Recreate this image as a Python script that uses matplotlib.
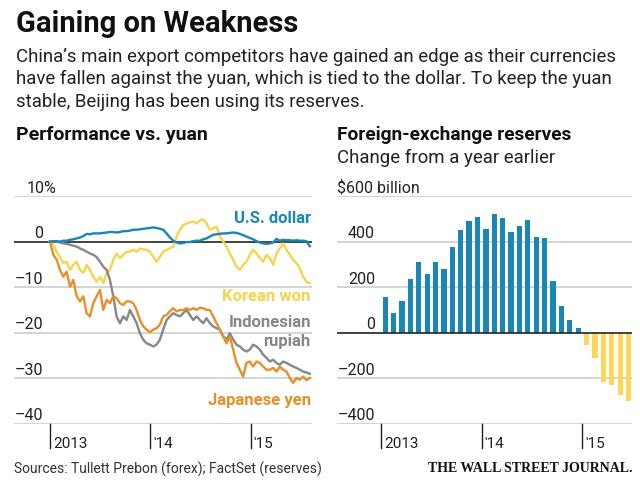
import numpy as np
import matplotlib
matplotlib.use('Agg')
import matplotlib.pyplot as plt
from matplotlib.transforms import blended_transform_factory

# left panel: performance vs. yuan, % change since start of 2013
t_years = np.linspace(2013.0, 2015.59, 79)
usd = [0.0, 0.1, 0.1, 0.0, 0.2, 0.2, 0.4, 0.5, 0.7, 0.9,
       1.2, 1.7, 1.6, 1.8, 1.8, 1.8, 1.9, 2.0, 2.1, 2.1,
       2.0, 2.1, 2.3, 2.3, 2.4, 2.6, 2.6, 2.7, 2.8, 2.9,
       3.0, 3.1, 3.0, 2.8, 2.6, 1.8, 0.9, 0.2, -0.2, -0.4,
       -0.3, -0.1, -0.1, 0.1, 0.2, 0.2, 0.5, 0.7, 1.1, 1.5,
       1.6, 1.7, 1.8, 1.8, 1.9, 2.0, 1.9, 1.7, 1.4, 1.1,
       0.8, 0.5, 0.1, -0.2, -0.4, -0.5, -0.4, -0.2, 0.6, 0.2,
       0.4, 0.3, 0.3, 0.2, 0.3, 0.2, 0.2, 0.1, -1.0]
krw = [0.0, -0.7, -2.2, -3.3, -4.7, -4.4, -6.2, -5.1, -4.4, -6.2,
       -6.9, -5.1, -6.2, -7.7, -8.8, -7.7, -9.1, -6.9, -6.2, -4.0,
       -2.6, -3.6, -2.9, -2.2, -2.2, -1.8, -2.2, -1.5, -1.7, -1.8,
       -2.2, -3.3, -4.4, -3.4, -2.2, -1.8, -1.5, -1.1, 1.1, 2.6,
       3.6, 4.0, 4.2, 4.4, 4.0, 4.6, 4.9, 4.0, 2.6, 2.9,
       3.3, 1.1, 0.0, -1.1, -2.6, -4.0, -5.5, -6.2, -5.1, -4.4,
       -2.9, -1.8, -2.6, -3.6, -4.4, -2.9, -3.6, -5.1, -2.6, -1.5,
       -0.4, -1.8, -2.9, -4.0, -4.7, -5.8, -7.7, -8.8, -9.1]
jpy = [0.0, -2.9, -4.0, -6.2, -7.7, -6.6, -9.9, -8.4, -12.0, -13.1,
       -12.0, -15.7, -16.4, -13.5, -12.0, -10.6, -15.0, -12.8, -13.5, -12.0,
       -12.4, -13.5, -13.9, -13.1, -13.1, -13.5, -15.0, -17.2, -18.6, -19.3,
       -19.9, -19.3, -19.0, -18.2, -16.4, -16.1, -15.3, -14.6, -15.3, -15.0,
       -15.0, -14.6, -15.0, -14.6, -15.0, -14.5, -14.6, -15.0, -15.0, -16.4,
       -17.9, -19.3, -20.8, -22.3, -20.8, -23.7, -26.6, -28.1, -29.6, -26.6,
       -26.3, -27.4, -26.3, -26.6, -27.4, -28.1, -28.1, -27.7, -28.5, -27.4,
       -28.1, -28.5, -29.9, -31.0, -29.9, -30.3, -29.6, -30.4, -29.9]
idr = [0.0, 0.0, 0.0, -0.2, -0.4, -0.5, -0.7, -0.9, -1.1, -1.5,
       -1.8, -2.2, -2.6, -2.9, -3.4, -4.4, -5.5, -6.2, -8.4, -12.0,
       -16.4, -17.9, -16.4, -17.2, -15.0, -16.4, -17.9, -20.1, -21.5, -22.3,
       -22.6, -23.0, -22.6, -21.5, -19.3, -17.2, -16.4, -15.7, -16.1, -16.4,
       -15.7, -15.0, -16.1, -17.2, -16.4, -17.2, -17.9, -16.8, -17.9, -18.6,
       -19.0, -19.3, -20.8, -21.5, -20.1, -21.5, -22.6, -23.0, -23.7, -24.1,
       -23.7, -22.6, -23.0, -23.7, -24.8, -25.5, -26.3, -25.9, -26.6, -27.0,
       -26.3, -26.6, -27.0, -27.4, -27.7, -28.1, -28.5, -28.7, -29.0]

# right panel: monthly change in reserves, $ billion, Jan 2013 - Jun 2015
months = np.arange(30)
reserves = [158, 88, 139, 237, 309, 258, 309, 282, 377, 450,
            492, 508, 455, 520, 505, 444, 467, 496, 419, 416,
            225, 118, 58, 23, -54, -111, -216, -229, -272, -298]

year_ticks = [2013, 2014, 2015]
year_labels = ['2013', "'14", "'15"]
left_yticks = [10, 0, -10, -20, -30, -40]
right_yticks = [600, 400, 200, 0, -200, -400]

BLUE = '#1a86b6'
YELLOW = '#f6d44c'
BAR_YELLOW = '#fbd65a'
ORANGE = '#e98f2a'
GRAY = '#878787'
GRID = '#c9c9c9'

SANS = ['Roboto', 'DejaVu Sans']
W, H = 640, 484

fig = plt.figure(figsize=(6.4, 4.84), dpi=100)


def fy(py):
    return 1 - py / H


# header text
fig.text(16 / W, fy(32.5), 'Gaining on Weakness', family=SANS, weight='bold', size=21, color='#111111')
sub = ["China\u2019s main export competitors have gained an edge as their currencies",
       "have fallen against the yuan, which is tied to the dollar. To keep the yuan",
       "stable, Beijing has been using its reserves."]
for i, line in enumerate(sub):
    fig.text(16 / W, fy(61.7 + 22.5 * i), line, family=SANS, size=13.4, color='#222222')
fig.text(16 / W, fy(139.5), 'Performance vs. yuan', family=SANS, weight='bold', size=14, color='#111111')
fig.text(337 / W, fy(139.5), 'Foreign-exchange reserves', family=SANS, weight='bold', size=13.8, color='#111111')
fig.text(337 / W, fy(162.5), 'Change from a year earlier', family=SANS, size=13.4, color='#222222')

# axes placed in pixel units
ax1 = fig.add_axes([14 / W, fy(424), (312 - 14) / W, (424 - 196) / H])
ax2 = fig.add_axes([337 / W, fy(424), (632 - 337) / W, (424 - 196) / H])

ax1.set_xlim(2013 - 36 / 100.3, 2013 + 262 / 100.3)
ax1.set_ylim(-40, 10)
ax2.set_xlim(2013 - 44 / 100.7, 2013 + 251 / 100.7)
ax2.set_ylim(-400, 600)

for ax in (ax1, ax2):
    ax.axis('off')

# gridlines
for v in left_yticks:
    if v != 0:
        ax1.axhline(v, color=GRID, lw=1.1, zorder=0)
for v in right_yticks:
    if v != 0:
        ax2.axhline(v, color=GRID, lw=1.1, zorder=0)

# lines
ax1.plot(t_years, idr, color=GRAY, lw=1.7, zorder=3)
ax1.plot(t_years, jpy, color=ORANGE, lw=1.7, zorder=4)
ax1.plot(t_years, krw, color=YELLOW, lw=1.7, zorder=2)
ax1.plot(t_years, usd, color=BLUE, lw=1.7, zorder=5)
ax1.axhline(0, color='#222222', lw=1.2, zorder=1)

# bars
bar_x = 2013 + (months + 0.5) / 12
bar_colors = [BLUE if v >= 0 else BAR_YELLOW for v in reserves]
ax2.bar(bar_x, reserves, width=0.63 / 12, color=bar_colors, zorder=2)
ax2.axhline(0, color='#222222', lw=1.2, zorder=3)

# y labels sit just above gridlines
for v in left_yticks:
    if v == 10:
        ax1.text(2013 - 23 / 100.3, v + 0.7, '10%', ha='left', va='baseline',
                 family=SANS, size=11.5, color='#222222')
    else:
        lab = str(v).replace('-', '\u2013')
        ax1.text(2012.93, v + 0.8, lab, ha='right', va='baseline', family=SANS, size=11.5, color='#222222')

for v in right_yticks:
    if v == 600:
        ax2.text(2013 - 44 / 100.7, v + 15, '$600 billion', ha='left', va='baseline',
                 family=SANS, size=11.5, color='#222222')
    else:
        lab = str(v).replace('-', '\u2013')
        ax2.text(2012.94, v + 16, lab, ha='right', va='baseline', family=SANS, size=11.5, color='#222222')

# year ticks below the bottom gridline
for ax in (ax1, ax2):
    tr = blended_transform_factory(ax.transData, ax.transAxes)
    for yr, lab in zip(year_ticks, year_labels):
        ax.plot([yr, yr], [0, -24 / 228], color='#222222', lw=1.0, transform=tr, clip_on=False)
        ax.text(yr + 0.03, -24 / 228, lab, ha='left', va='baseline', transform=tr,
                family=SANS, size=11, color='#222222')

# series labels
lab_kw = dict(ha='right', va='baseline', family=SANS, weight='bold', size=12)
ax1.text(2015.6, 4.1, 'U.S. dollar', color=BLUE, **lab_kw)
ax1.text(2015.6, -13.0, 'Korean won', color=YELLOW, **lab_kw)
ax1.text(2015.6, -18.7, 'Indonesian', color=GRAY, **lab_kw)
ax1.text(2015.6, -22.9, 'rupiah', color=GRAY, **lab_kw)
ax1.text(2015.6, -35.8, 'Japanese yen', color=ORANGE, **lab_kw)

# footer
fig.text(14 / W, fy(474), 'Sources: Tullett Prebon (forex); FactSet (reserves)', family=SANS, size=10, color='#333333')
fig.text(632 / W, fy(472), 'THE WALL STREET JOURNAL.', ha='right', family=['Liberation Serif', 'DejaVu Serif'],
         weight='bold', size=10, color='#111111')

fig.savefig('out.png', dpi=100, facecolor='white')
